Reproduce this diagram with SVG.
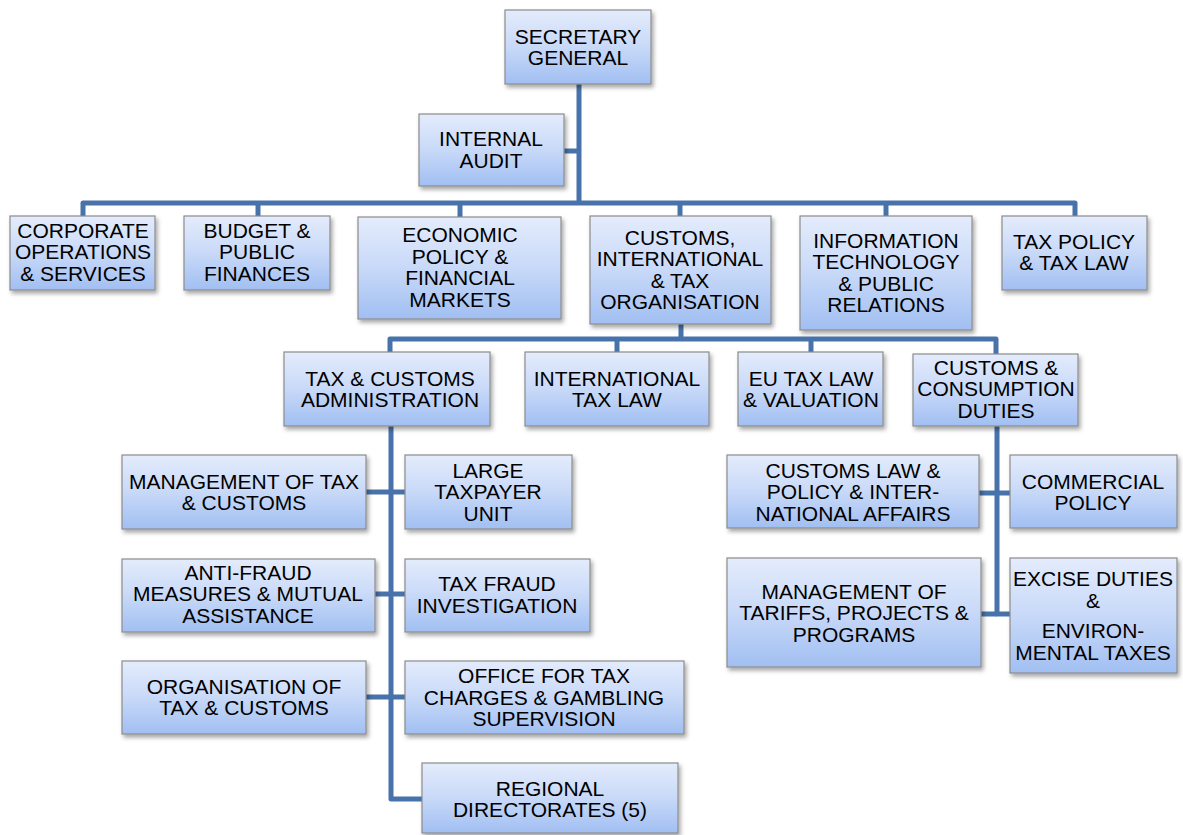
<svg xmlns="http://www.w3.org/2000/svg" width="1183" height="835" viewBox="0 0 1183 835">
  <defs>
    <linearGradient id="boxFill" x1="0" y1="0" x2="0" y2="1">
      <stop offset="0" stop-color="#e4ecfc"/>
      <stop offset="0.5" stop-color="#c8d9f8"/>
      <stop offset="1" stop-color="#a1bff2"/>
    </linearGradient>
    <filter id="shadow" x="-10%" y="-10%" width="125%" height="135%">
      <feDropShadow dx="2" dy="3" stdDeviation="2" flood-color="#000" flood-opacity="0.35"/>
    </filter>
  </defs>
  <style>
    .box { fill: url(#boxFill); stroke: #8c8c8c; stroke-width: 1.2; filter: url(#shadow); }
    .lbl { font-family: "Liberation Sans", Arial, sans-serif; font-size: 21px; fill: #000; text-anchor: middle; }
    .wire { fill: none; stroke: #4873aa; stroke-width: 5; stroke-linejoin: round; }
  </style>

  <rect width="1183" height="835" fill="#ffffff"/>

  <!-- connectors -->
  <g id="connectors" class="wire">
    <path d="M579 84 V203"/>
    <path d="M564 151 H579"/>
    <path d="M83 216 V203 H1075 V216"/>
    <path d="M258 203 V216"/>
    <path d="M460 203 V217"/>
    <path d="M680 203 V216"/>
    <path d="M886 203 V216"/>
    <path d="M681 324 V339"/>
    <path d="M390 352 V339 H996 V354"/>
    <path d="M617 339 V352"/>
    <path d="M811 339 V352"/>
    <path d="M391 426 V799 H422"/>
    <path d="M366 492 H405"/>
    <path d="M375 594 H405"/>
    <path d="M366 697 H405"/>
    <path d="M997 426 V614 H1010"/>
    <path d="M979 493 H1010"/>
    <path d="M981 614 H997"/>
  </g>

  <!-- level 0 -->
  <g id="secretary-general">
    <rect class="box" x="505" y="10" width="146" height="74"/>
    <text class="lbl" x="578" y="43.5">SECRETARY</text>
    <text class="lbl" x="578" y="65">GENERAL</text>
  </g>
  <g id="internal-audit">
    <rect class="box" x="419" y="114" width="145" height="72"/>
    <text class="lbl" x="491" y="146">INTERNAL</text>
    <text class="lbl" x="491" y="167.5">AUDIT</text>
  </g>

  <!-- level 1 -->
  <g id="corporate-operations">
    <rect class="box" x="10" y="216" width="145" height="74"/>
    <text class="lbl" x="83" y="237.5">CORPORATE</text>
    <text class="lbl" x="83" y="259">OPERATIONS</text>
    <text class="lbl" x="83" y="280.5">&amp; SERVICES</text>
  </g>
  <g id="budget-public-finances">
    <rect class="box" x="184" y="216" width="146" height="74"/>
    <text class="lbl" x="257" y="237.5">BUDGET &amp;</text>
    <text class="lbl" x="257" y="259">PUBLIC</text>
    <text class="lbl" x="257" y="280.5">FINANCES</text>
  </g>
  <g id="economic-policy">
    <rect class="box" x="358" y="217" width="203" height="102"/>
    <text class="lbl" x="460" y="242">ECONOMIC</text>
    <text class="lbl" x="460" y="263.5">POLICY &amp;</text>
    <text class="lbl" x="460" y="285">FINANCIAL</text>
    <text class="lbl" x="460" y="306.5">MARKETS</text>
  </g>
  <g id="customs-international-tax">
    <rect class="box" x="590" y="216" width="181" height="108"/>
    <text class="lbl" x="680" y="244.5">CUSTOMS,</text>
    <text class="lbl" x="680" y="266">INTERNATIONAL</text>
    <text class="lbl" x="680" y="287.5">&amp; TAX</text>
    <text class="lbl" x="680" y="309">ORGANISATION</text>
  </g>
  <g id="information-technology">
    <rect class="box" x="800" y="216" width="172" height="114"/>
    <text class="lbl" x="886" y="247.5">INFORMATION</text>
    <text class="lbl" x="886" y="269">TECHNOLOGY</text>
    <text class="lbl" x="886" y="290.5">&amp; PUBLIC</text>
    <text class="lbl" x="886" y="312">RELATIONS</text>
  </g>
  <g id="tax-policy-law">
    <rect class="box" x="1002" y="216" width="145" height="74"/>
    <text class="lbl" x="1074" y="248.5">TAX POLICY</text>
    <text class="lbl" x="1074" y="270">&amp; TAX LAW</text>
  </g>

  <!-- level 2 -->
  <g id="tax-customs-administration">
    <rect class="box" x="284" y="352" width="206" height="74"/>
    <text class="lbl" x="390" y="385.5">TAX &amp; CUSTOMS</text>
    <text class="lbl" x="390" y="407">ADMINISTRATION</text>
  </g>
  <g id="international-tax-law">
    <rect class="box" x="525" y="352" width="184" height="74"/>
    <text class="lbl" x="617" y="385.5">INTERNATIONAL</text>
    <text class="lbl" x="617" y="407">TAX LAW</text>
  </g>
  <g id="eu-tax-law">
    <rect class="box" x="738" y="352" width="145" height="74"/>
    <text class="lbl" x="811" y="385.5">EU TAX LAW</text>
    <text class="lbl" x="811" y="407">&amp; VALUATION</text>
  </g>
  <g id="customs-consumption-duties">
    <rect class="box" x="913" y="354" width="165" height="72"/>
    <text class="lbl" x="996" y="374.5">CUSTOMS &amp;</text>
    <text class="lbl" x="996" y="396">CONSUMPTION</text>
    <text class="lbl" x="996" y="417.5">DUTIES</text>
  </g>

  <!-- tax & customs administration units -->
  <g id="management-tax-customs">
    <rect class="box" x="122" y="455" width="244" height="74"/>
    <text class="lbl" x="244" y="488.5">MANAGEMENT OF TAX</text>
    <text class="lbl" x="244" y="510">&amp; CUSTOMS</text>
  </g>
  <g id="large-taxpayer-unit">
    <rect class="box" x="405" y="455" width="167" height="74"/>
    <text class="lbl" x="488" y="477.5">LARGE</text>
    <text class="lbl" x="488" y="499">TAXPAYER</text>
    <text class="lbl" x="488" y="520.5">UNIT</text>
  </g>
  <g id="anti-fraud">
    <rect class="box" x="122" y="559" width="253" height="73"/>
    <text class="lbl" x="248" y="579.5">ANTI-FRAUD</text>
    <text class="lbl" x="248" y="601">MEASURES &amp; MUTUAL</text>
    <text class="lbl" x="248" y="622.5">ASSISTANCE</text>
  </g>
  <g id="tax-fraud-investigation">
    <rect class="box" x="405" y="559" width="185" height="73"/>
    <text class="lbl" x="497" y="591">TAX FRAUD</text>
    <text class="lbl" x="497" y="612.5">INVESTIGATION</text>
  </g>
  <g id="organisation-tax-customs">
    <rect class="box" x="122" y="661" width="244" height="73"/>
    <text class="lbl" x="244" y="693.5">ORGANISATION OF</text>
    <text class="lbl" x="244" y="715">TAX &amp; CUSTOMS</text>
  </g>
  <g id="office-tax-charges">
    <rect class="box" x="405" y="661" width="279" height="73"/>
    <text class="lbl" x="544" y="683">OFFICE FOR TAX</text>
    <text class="lbl" x="544" y="704.5">CHARGES &amp; GAMBLING</text>
    <text class="lbl" x="544" y="726">SUPERVISION</text>
  </g>
  <g id="regional-directorates">
    <rect class="box" x="422" y="763" width="256" height="70"/>
    <text class="lbl" x="550" y="795.5">REGIONAL</text>
    <text class="lbl" x="550" y="817">DIRECTORATES (5)</text>
  </g>

  <!-- customs & consumption duties units -->
  <g id="customs-law-policy">
    <rect class="box" x="727" y="455" width="252" height="73"/>
    <text class="lbl" x="853" y="477.5">CUSTOMS LAW &amp;</text>
    <text class="lbl" x="853" y="499">POLICY &amp; INTER-</text>
    <text class="lbl" x="853" y="520.5">NATIONAL AFFAIRS</text>
  </g>
  <g id="commercial-policy">
    <rect class="box" x="1010" y="455" width="167" height="73"/>
    <text class="lbl" x="1093" y="488.5">COMMERCIAL</text>
    <text class="lbl" x="1093" y="510">POLICY</text>
  </g>
  <g id="management-tariffs">
    <rect class="box" x="727" y="558" width="254" height="109"/>
    <text class="lbl" x="854" y="598.5">MANAGEMENT OF</text>
    <text class="lbl" x="854" y="620">TARIFFS, PROJECTS &amp;</text>
    <text class="lbl" x="854" y="641.5">PROGRAMS</text>
  </g>
  <g id="excise-environmental">
    <rect class="box" x="1010" y="558" width="167" height="115"/>
    <text class="lbl" x="1093" y="585.5">EXCISE DUTIES</text>
    <text class="lbl" x="1093" y="608">&amp;</text>
    <text class="lbl" x="1093" y="637.5">ENVIRON-</text>
    <text class="lbl" x="1093" y="660">MENTAL TAXES</text>
  </g>
</svg>
